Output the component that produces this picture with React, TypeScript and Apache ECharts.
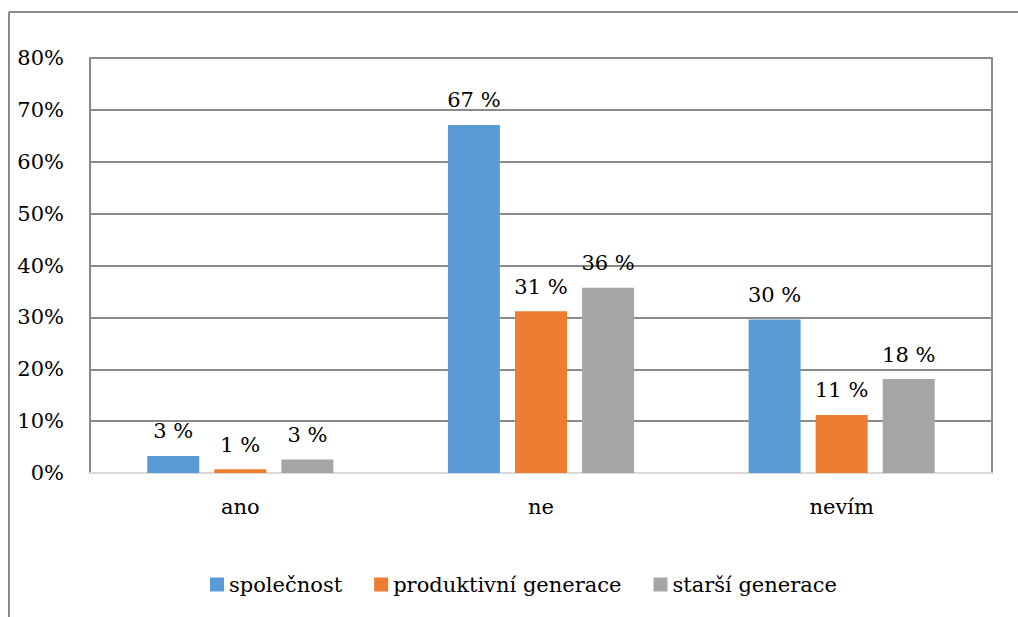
import React, { useEffect, useRef } from "react";
import * as echarts from "echarts";

const categories = ["ano", "ne", "nevím"];
const seriesNames = ["společnost", "produktivní generace", "starší generace"];
const spolecnost = [3.3, 67.1, 29.6];
const produktivni = [0.7, 31.2, 11.2];
const starsi = [2.6, 35.7, 18.1];
const yTicks = [0, 10, 20, 30, 40, 50, 60, 70, 80];
const colors = ["#5B9BD5", "#ED7D31", "#A5A5A5"];

const FONT = "DejaVu Serif";
const FS = 21;

export default function App() {
  const ref = useRef<HTMLDivElement>(null);
  useEffect(() => {
    if (!ref.current) return;
    const chart = echarts.init(ref.current, undefined, { renderer: "svg" });
    const values = [spolecnost, produktivni, starsi];
    chart.setOption({
      animation: false,
      backgroundColor: "#fff",
      textStyle: { fontFamily: FONT },
      grid: { left: 90, right: 26, top: 58, bottom: 144, containLabel: false },
      legend: {
        bottom: 17,
        left: 205,
        itemWidth: 14,
        itemHeight: 14,
        itemGap: 32,
        icon: "rect",
        textStyle: { fontFamily: FONT, fontSize: FS, color: "#000" },
        data: seriesNames,
      },
      xAxis: {
        type: "category",
        data: categories,
        axisLine: { show: true, lineStyle: { color: "#d9d9d9", width: 2 } },
        axisTick: { show: false },
        axisLabel: { fontFamily: FONT, fontSize: FS, color: "#000", margin: 23 },
      },
      yAxis: [
        {
          type: "value",
          min: 0,
          max: 80,
          interval: 10,
          axisLine: { show: true, lineStyle: { color: "#8a8a8a", width: 2 } },
          axisTick: { show: false },
          splitLine: { show: true, lineStyle: { color: "#8a8a8a", width: 2 } },
          axisLabel: {
            fontFamily: FONT,
            fontSize: FS,
            color: "#000",
            margin: 26,
            formatter: (v: number) => (yTicks.includes(v) ? v + "%" : ""),
          },
        },
        {
          type: "value",
          position: "right",
          min: 0,
          max: 80,
          interval: 10,
          axisLine: { show: true, lineStyle: { color: "#8a8a8a", width: 2 } },
          axisTick: { show: false },
          splitLine: { show: false },
          axisLabel: { show: false },
        },
      ],
      graphic: [
        { type: "line", shape: { x1: 9, y1: 12, x2: 1018, y2: 12 }, style: { stroke: "#8a8a8a", lineWidth: 2 } },
        { type: "line", shape: { x1: 9, y1: 12, x2: 9, y2: 617 }, style: { stroke: "#8a8a8a", lineWidth: 2 } },
      ],
      series: seriesNames.map((name, i) => ({
        name,
        type: "bar",
        data: values[i],
        barWidth: 52,
        barGap: "29%",
        itemStyle: { color: colors[i] },
        label: {
          show: true,
          position: "top",
          distance: 14,
          fontFamily: FONT,
          fontSize: FS,
          color: "#000",
          formatter: (p: any) => Math.round(p.value) + " %",
        },
      })),
    });
    return () => chart.dispose();
  }, []);
  return (
    <div
      ref={ref}
      style={{ position: "fixed", left: 0, top: 0, width: 1018, height: 617 }}
    />
  );
}
